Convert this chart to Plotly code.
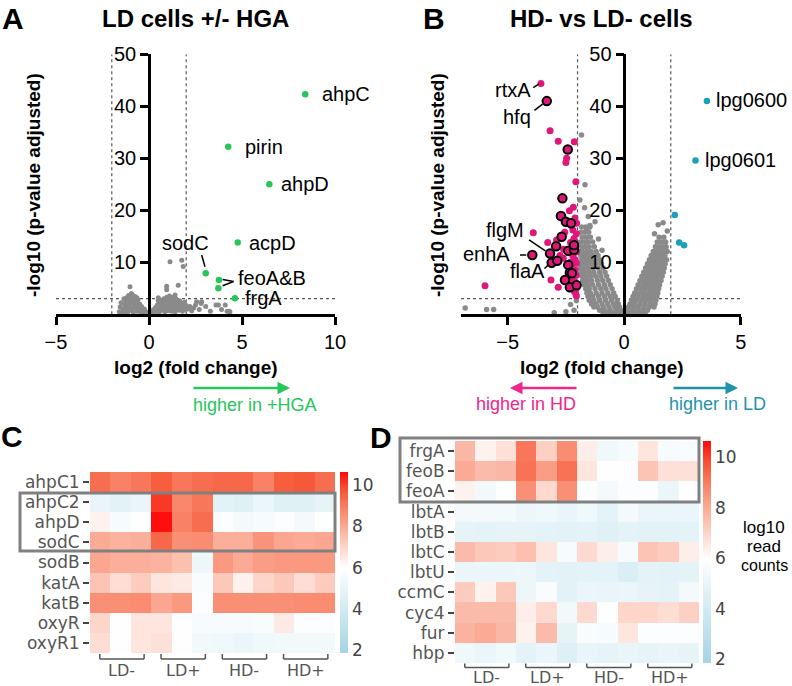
import plotly.graph_objects as go

W, H = 792, 686
def px(v): return v / W
def py(v): return 1 - v / H

FONT = "Liberation Sans, Arial, sans-serif"
HFONT = "DejaVu Sans, sans-serif"
GREEN = "#27c65a"
PINK = "#e0177a"
PINK_TXT = "#f0278a"
TEAL = "#1aa0bd"
TEAL_TXT = "#1f93aa"
GRAY = "#8a8a8a"

# ---------------- Panel A : LD cells +/- HGA ----------------
a_genes = ["ahpC", "pirin", "ahpD", "acpD", "sodC", "feoA", "feoB", "frgA"]
a_sig_x = [8.4, 4.26, 6.47, 4.77, 3.05, 3.76, 3.73, 4.62]
a_sig_y = [42.3, 32.2, 25.0, 13.8, 7.9, 6.6, 5.0, 3.1]
a_gray = [(-1.45,0.3),(-1.4,1.0),(-1.35,0.6),(-1.3,1.8),(-1.25,2.5),(-1.2,1.2),(-1.2,3.2),(-1.15,0.4),
          (-1.1,2.0),(-1.1,3.6),(-1.05,1.5),(-1.0,2.8),(-1.0,0.8),(-0.95,4.0),(-0.95,3.3),(-0.9,2.2),
          (-0.9,1.0),(-0.85,3.0),(-0.85,0.3),(-0.8,1.8),(-0.8,2.6),(-0.75,3.4),(-0.7,1.2),(-0.7,2.1),
          (-0.65,0.6),(-0.6,2.8),(-0.6,1.6),(-0.55,0.9),(-0.5,2.0),(-0.5,1.2),(-0.45,0.4),(-0.4,1.5),
          (-0.35,0.8),(-0.3,0.3),(-0.25,1.0),(-0.2,0.5),(-0.15,0.2),(-0.1,0.4),(-0.05,0.1),(-1.3,0.2),
          (-1.02,5.3),(-1.6,0.5),(-1.55,1.4),(-1.5,2.2),(-0.65,3.2),(-1.1,2.9),(-0.9,3.8),(-1.35,3.0),
          (0.05,0.1),(0.1,0.3),(0.15,0.6),(0.2,0.2),(0.25,0.9),(0.3,0.4),(0.35,1.3),(0.4,0.7),
          (0.45,1.8),(0.5,1.1),(0.55,0.4),(0.6,2.2),(0.6,1.4),(0.65,0.8),(0.7,2.7),(0.7,1.7),
          (0.75,1.0),(0.8,3.0),(0.8,2.0),(0.85,0.5),(0.9,2.5),(0.9,1.3),(0.95,3.3),(1.0,1.8),
          (1.0,0.7),(1.05,2.8),(1.1,1.2),(1.1,3.5),(1.15,2.2),(1.2,0.6),(1.2,1.6),(1.25,2.9),
          (1.3,1.0),(1.35,2.4),(1.4,1.8),(1.4,0.5),(1.45,3.0),(1.5,1.2),(1.55,2.2),(1.6,0.8),
          (1.6,1.6),(1.65,2.6),(1.7,1.1),(1.75,1.9),(1.8,0.6),(1.85,1.4),(1.9,2.3),(1.95,0.9),
          (2.0,1.7),(2.1,1.0),(2.2,1.5),(2.3,0.7),(2.4,1.2),(1.3,3.3),(0.5,2.6),
          (1.13,10.1),(1.76,10.4),(1.84,9.2),(0.95,5.4),(1.57,5.6),(0.95,4.7),(1.4,3.7),(0.5,3.2),
          (2.56,2.4),(2.8,2.1),(3.05,1.5),(3.6,1.8),(3.3,0.6),(3.9,0.9),(4.1,1.8),(4.3,0.6),
          (2.5,1.8),(2.83,2.4),(3.73,1.8),(4.35,0.5),(4.2,0.6),(2.7,0.9)]

# ---------------- Panel B : HD- vs LD- cells ----------------
b_hd_plain = [(-3.57,44.4),(-3.18,35.3),(-2.83,33.3),(-2.14,33.2),(-2.47,30.0),(-2.50,29.2),(-2.07,25.5),
              (-2.18,20.6),(-2.35,19.9),(-2.11,18.5),(-2.04,17.5),(-3.90,15.7),(-3.28,13.8),(-2.90,14.3),
              (-2.61,10.8),(-3.14,6.6),(-2.83,5.2),(-5.97,5.5),(-2.08,4.0),(-2.15,14.6),(-2.05,15.5),
              (-2.2,16.2),(-2.1,13.0),(-2.05,12.0),(-2.2,11.2),(-2.1,10.5),(-2.05,9.8),(-2.25,9.0),
              (-2.1,8.5),(-2.05,7.5),(-2.2,7.0),(-2.1,6.2),(-2.25,6.0),(-2.05,5.0),(-2.15,4.5),
              (-2.3,10.0),(-2.3,13.8),(-2.35,7.2),(-2.6,12.5),(-2.75,11.3),(-2.55,15.8),(-2.2,14.0),
              (-2.05,3.5),(-2.78,18.9)]
b_hd_outlined = [(-3.32,41.0),(-2.42,31.7),(-2.65,22.3),(-2.71,18.9),(-2.50,17.8),(-2.28,17.5),
                 (-2.68,14.9),(-2.92,13.1),(-3.18,11.7),(-3.94,11.4),(-2.40,12.2),(-2.15,12.4),
                 (-2.15,13.3),(-3.11,9.9),(-2.87,10.3),(-2.40,9.5),(-2.33,8.0),(-2.24,7.9),
                 (-2.54,6.6),(-2.33,5.2),(-2.04,5.6)]
b_ld_x = [3.55, 3.06, 2.17, 2.36, 2.57]
b_ld_y = [41.0, 29.6, 19.1, 13.8, 13.3]
b_gray_rows = {
    0.3: [-0.1,-0.3,-0.5,-0.7,-0.9, 0.1,0.3,0.5,0.7,0.9],
    0.8: [-0.15,-0.35,-0.6,-0.85,-1.05, 0.12,0.35,0.58,0.8,1.0],
    1.4: [-0.2,-0.4,-0.65,-0.9,-1.15,-1.3, 0.18,0.4,0.62,0.85,1.08,1.28],
    2.0: [-0.25,-0.45,-0.7,-0.95,-1.2,-1.4, 0.25,0.45,0.68,0.9,1.12,1.32],
    2.7: [-0.3,-0.55,-0.8,-1.05,-1.3,-1.5, 0.32,0.52,0.74,0.95,1.16,1.36],
    3.4: [-0.38,-0.6,-0.85,-1.1,-1.35,-1.55, 0.38,0.58,0.8,1.0,1.2,1.4],
    4.1: [-0.45,-0.7,-0.95,-1.2,-1.45,-1.6, 0.45,0.65,0.86,1.06,1.25,1.44],
    4.9: [-0.52,-0.78,-1.0,-1.25,-1.5,-1.65, 0.53,0.72,0.92,1.12,1.3,1.48],
    5.7: [-0.6,-0.85,-1.1,-1.35,-1.55,-1.72, 0.6,0.8,0.98,1.17,1.35,1.52],
    6.5: [-0.68,-0.92,-1.15,-1.4,-1.6,-1.78, 0.68,0.86,1.04,1.22,1.4,1.58],
    7.3: [-0.75,-1.0,-1.22,-1.45,-1.65,-1.8, 0.76,0.93,1.1,1.28,1.45,1.63],
    8.1: [-0.82,-1.05,-1.3,-1.5,-1.7,-1.85, 0.84,1.0,1.16,1.33,1.5,1.68],
    8.9: [-0.9,-1.12,-1.35,-1.55,-1.75,-1.88, 0.92,1.08,1.24,1.4,1.56,1.72],
    9.7: [-0.98,-1.2,-1.4,-1.6,-1.78,-1.9, 1.0,1.15,1.3,1.46,1.62,1.76],
    10.5: [-1.05,-1.28,-1.48,-1.66,-1.82, 1.08,1.23,1.38,1.53,1.68,1.82],
    11.3: [-1.12,-1.35,-1.55,-1.72,-1.86, 1.16,1.3,1.45,1.6,1.75],
    12.1: [-1.2,-1.42,-1.6,-1.78,-1.9, 1.25,1.4,1.55,1.7,1.85],
    13.0: [-1.28,-1.5,-1.66,-1.82, 1.34,1.5,1.65,1.8],
    13.9: [-1.35,-1.56,-1.72,-1.88, 1.42,1.6,1.78],
    14.8: [-1.45,-1.62,-1.8, 1.5,1.7],
    15.8: [-1.52,-1.7,-1.86],
    16.8: [-1.47,-1.65,-1.82],
}
b_gray_extra = [(-1.61,16.2),(-1.47,17.1),(-1.83,34.5),(-1.68,24.9),(-1.54,18.8),(-1.7,20.5),(-1.9,22.0),
                (-1.25,17.8),(-1.1,14.5),(-0.95,12.3),(-6.82,1.2),(-5.9,0.9),(-5.6,0.9),(-2.3,1.9),
                (-2.15,0.8),(-2.5,0.5),(-3.0,0.3),(-2.05,2.6),(1.46,17.2),(1.67,17.6),(1.85,16.0),(1.3,15.5)]

# ---------------- Panel C / D heatmaps ----------------
groups = ["LD-", "LD+", "HD-", "HD+"]
samples = ["LD-1","LD-2","LD-3","LD+1","LD+2","LD+3","HD-1","HD-2","HD-3","HD+1","HD+2","HD+3"]
c_genes = ["ahpC1", "ahpC2", "ahpD", "sodC", "sodB", "katA", "katB", "oxyR", "oxyR1"]
c_values = [
    [9.3, 8.9, 9.1, 9.6, 9.1, 9.3, 9.4, 9.4, 8.9, 9.6, 9.7, 9.3],
    [5.0, 4.7, 5.0, 10.1, 8.8, 9.1, 4.7, 4.6, 5.1, 4.6, 4.6, 4.9],
    [6.3, 5.6, 6.0, 10.6, 8.9, 9.3, 5.8, 5.5, 5.6, 5.8, 5.5, 5.9],
    [8.0, 7.8, 7.9, 9.4, 8.6, 8.7, 7.9, 7.9, 8.5, 8.1, 8.0, 8.1],
    [8.1, 7.9, 7.9, 7.8, 7.5, 5.2, 8.4, 8.0, 8.3, 8.4, 8.4, 8.4],
    [7.4, 6.8, 7.2, 6.6, 6.5, 5.7, 7.3, 6.3, 7.0, 7.3, 6.8, 7.2],
    [8.6, 8.6, 8.7, 8.1, 8.4, 5.8, 8.6, 8.6, 8.6, 8.6, 8.7, 8.7],
    [7.0, 6.0, 6.6, 6.6, 6.0, 5.6, 5.6, 5.6, 5.7, 6.5, 5.8, 5.8],
    [6.8, 6.0, 6.6, 6.7, 6.0, 5.4, 5.3, 5.1, 5.3, 5.4, 5.4, 5.4],
]
d_genes = ["frgA", "feoB", "feoA", "lbtA", "lbtB", "lbtC", "lbtU", "ccmC", "cyc4", "fur", "hbp"]
d_values = [
    [7.7, 6.3, 6.7, 9.1, 7.1, 8.7, 6.4, 5.3, 5.6, 6.6, 5.6, 5.7],
    [8.0, 7.6, 7.7, 9.2, 8.3, 9.2, 6.6, 6.0, 6.0, 7.4, 6.7, 6.7],
    [6.3, 5.4, 5.9, 8.6, 6.9, 8.6, 5.8, 5.5, 5.8, 5.8, 5.1, 6.0],
    [5.5, 5.5, 5.5, 5.2, 5.3, 5.0, 5.3, 4.8, 5.5, 5.1, 5.1, 5.1],
    [4.9, 4.8, 4.9, 4.9, 4.8, 4.7, 4.8, 4.6, 4.8, 4.7, 4.7, 4.8],
    [7.6, 7.3, 7.2, 7.5, 6.6, 5.6, 6.9, 6.4, 5.6, 7.4, 7.2, 6.4],
    [5.1, 5.1, 5.1, 5.2, 4.8, 4.7, 4.8, 4.8, 4.3, 4.8, 4.7, 4.8],
    [7.2, 6.3, 7.3, 5.2, 5.7, 4.7, 5.1, 5.0, 5.1, 4.9, 4.8, 5.5],
    [7.6, 7.6, 7.6, 6.4, 6.9, 5.4, 6.9, 6.0, 7.0, 7.0, 6.8, 7.1],
    [7.8, 8.0, 7.7, 6.3, 7.6, 4.9, 5.7, 5.6, 6.6, 5.8, 5.8, 5.8],
    [5.3, 5.1, 5.4, 4.8, 5.1, 4.5, 5.0, 4.9, 5.0, 4.9, 5.0, 4.9],
]
cb_ticks = [2, 4, 6, 8, 10]
ZMIN, ZMAX = 1.85, 10.65
cscale = [[0.0, "#a5d4e4"], [0.25, "#d3ebf3"], [0.47, "#ffffff"], [0.62, "#fcc8b9"],
          [0.78, "#f98b70"], [0.9, "#f65535"], [1.0, "#ff0a0a"]]

fig = go.Figure()

# Panel A traces
fig.add_trace(go.Scatter(x=[p[0] for p in a_gray], y=[p[1] for p in a_gray], mode="markers",
                         marker=dict(color=GRAY, size=5), xaxis="x", yaxis="y", cliponaxis=False))
fig.add_trace(go.Scatter(x=a_sig_x, y=a_sig_y, mode="markers", marker=dict(color=GREEN, size=6.5),
                         xaxis="x", yaxis="y", cliponaxis=False))

# Panel B traces
bgx, bgy = [], []
for yv, xs in b_gray_rows.items():
    for xv in xs:
        bgx.append(xv); bgy.append(yv)
bgx += [p[0] for p in b_gray_extra]
bgy += [p[1] for p in b_gray_extra]
fig.add_trace(go.Scatter(x=bgx, y=bgy, mode="markers", marker=dict(color=GRAY, size=5.5),
                         xaxis="x2", yaxis="y2", cliponaxis=False))
fig.add_trace(go.Scatter(x=[p[0] for p in b_hd_plain], y=[p[1] for p in b_hd_plain], mode="markers",
                         marker=dict(color=PINK, size=7), xaxis="x2", yaxis="y2", cliponaxis=False))
fig.add_trace(go.Scatter(x=[p[0] for p in b_hd_outlined], y=[p[1] for p in b_hd_outlined], mode="markers",
                         marker=dict(color=PINK, size=8.5, line=dict(color="black", width=2)),
                         xaxis="x2", yaxis="y2", cliponaxis=False))
fig.add_trace(go.Scatter(x=b_ld_x, y=b_ld_y, mode="markers", marker=dict(color=TEAL, size=6.5),
                         xaxis="x2", yaxis="y2", cliponaxis=False))

# Heatmaps
def cbar(top, bottom, left):
    return dict(x=px(left), xanchor="left", y=py((top + bottom) / 2), yanchor="middle",
                len=bottom - top, lenmode="pixels", thickness=8, thicknessmode="pixels",
                outlinewidth=0, xpad=0, ypad=0, tickvals=cb_ticks, ticks="",
                tickfont=dict(family=HFONT, size=17, color="#444"))

fig.add_trace(go.Heatmap(z=c_values, x=samples, y=c_genes, colorscale=cscale, zmin=ZMIN, zmax=ZMAX,
                         xaxis="x3", yaxis="y3", colorbar=cbar(472, 653, 340), hoverinfo="skip"))
fig.add_trace(go.Heatmap(z=d_values, x=samples, y=d_genes, colorscale=cscale, zmin=ZMIN, zmax=ZMAX,
                         xaxis="x4", yaxis="y4", colorbar=cbar(441, 663, 703), hoverinfo="skip"))

axis_common = dict(showgrid=False, zeroline=False, showline=True, linecolor="black", linewidth=2.5,
                   ticks="outside", ticklen=8, tickwidth=2.5, tickcolor="black", automargin=False,
                   tickfont=dict(family=FONT, size=20, color="black"))
hm_x = dict(showgrid=False, zeroline=False, showline=False, showticklabels=False, ticks="",
            type="category", automargin=False)
hm_y = dict(showgrid=False, zeroline=False, showline=False, autorange="reversed", type="category",
            ticks="outside", ticklen=6, tickwidth=1.5, tickcolor="#444", automargin=False,
            tickfont=dict(family=HFONT, size=17, color="#555"))

fig.update_layout(
    width=W, height=H, margin=dict(l=0, r=0, t=0, b=0, pad=0, autoexpand=False),
    paper_bgcolor="white", plot_bgcolor="rgba(0,0,0,0)", showlegend=False,
    xaxis=dict(domain=[px(56), px(335)], range=[-5, 10], anchor="y", tickvals=[-5, 0, 5, 10], **axis_common),
    yaxis=dict(domain=[py(314.3), py(54.3)], range=[0, 50], anchor="free", position=px(149),
               tickvals=[10, 20, 30, 40, 50], **axis_common),
    xaxis2=dict(domain=[px(461), px(740.7)], range=[-7, 5], anchor="y2", tickvals=[-5, 0, 5], **axis_common),
    yaxis2=dict(domain=[py(314.3), py(54.3)], range=[0, 50], anchor="free", position=px(624.3),
                tickvals=[10, 20, 30, 40, 50], **axis_common),
    xaxis3=dict(domain=[px(90), px(335)], anchor="y3", **hm_x),
    yaxis3=dict(domain=[py(653), py(472)], anchor="x3", **hm_y),
    xaxis4=dict(domain=[px(455), px(699)], anchor="y4", **hm_x),
    yaxis4=dict(domain=[py(663), py(441)], anchor="x4", **hm_y),
)

shapes = []
dot = dict(color="#555", width=1.2, dash="dot")
for xr, yr, x0, x1 in [("x", "y", -5, 10), ("x2", "y2", -7, 5)]:
    shapes.append(dict(type="line", xref=xr, yref=yr, x0=x0, x1=x1, y0=3, y1=3, line=dot, layer="below"))
    for xv in (-2, 2):
        shapes.append(dict(type="line", xref=xr, yref=yr, x0=xv, x1=xv, y0=0, y1=50, line=dot, layer="below"))

lead = dict(color="black", width=1.5)
# Panel A leader lines
shapes.append(dict(type="line", xref="x", yref="y", x0=2.83, y0=11.4, x1=3.01, y1=9.15, line=lead))
shapes.append(dict(type="line", xref="x", yref="y", x0=3.96, y0=6.7, x1=4.55, y1=6.3, line=lead))
shapes.append(dict(type="line", xref="x", yref="y", x0=3.96, y0=5.5, x1=4.55, y1=6.3, line=lead))
# Panel B leader lines
shapes.append(dict(type="line", xref="x2", yref="y2", x0=-3.9, y0=43.6, x1=-3.65, y1=44.3, line=lead))
shapes.append(dict(type="line", xref="x2", yref="y2", x0=-3.85, y0=39.2, x1=-3.5, y1=40.4, line=lead))
shapes.append(dict(type="line", xref="x2", yref="y2", x0=-4.08, y0=14.3, x1=-3.38, y1=12.2, line=lead))
shapes.append(dict(type="line", xref="x2", yref="y2", x0=-4.47, y0=11.4, x1=-4.2, y1=11.4, line=lead))
shapes.append(dict(type="line", xref="x2", yref="y2", x0=-3.42, y0=8.8, x1=-3.22, y1=9.6, line=lead))

# boxes around heatmap rows
box = dict(color="#808080", width=3)
shapes.append(dict(type="rect", xref="paper", yref="paper", x0=px(20), x1=px(335), y0=py(551), y1=py(493), line=box))
shapes.append(dict(type="rect", xref="paper", yref="paper", x0=px(400), x1=px(699), y0=py(502), y1=py(438), line=box))

# group brackets
annotations = []
brk = dict(color="#555", width=1.5)
for xr, ytop, ybot, ylab in [("x3", 654, 659, 670), ("x4", 663.5, 667.5, 677)]:
    for g, name in enumerate(groups):
        x0, x1 = 3 * g - 0.02, 3 * g + 2.15
        shapes.append(dict(type="line", xref=xr, yref="paper", x0=x0, x1=x1, y0=py(ybot), y1=py(ybot), line=brk))
        shapes.append(dict(type="line", xref=xr, yref="paper", x0=x0, x1=x0, y0=py(ybot), y1=py(ytop), line=brk))
        shapes.append(dict(type="line", xref=xr, yref="paper", x0=x1, x1=x1, y0=py(ybot), y1=py(ytop), line=brk))
        annotations.append(dict(xref=xr, yref="paper", x=(x0 + x1) / 2, y=py(ylab), text=name, showarrow=False,
                                xanchor="center", yanchor="middle",
                                font=dict(family=HFONT, size=16, color="#555")))

def ptxt(x, y, t, size, bold=False, color="black", angle=0, anchor="center"):
    return dict(xref="paper", yref="paper", x=px(x), y=py(y), text=f"<b>{t}</b>" if bold else t,
                showarrow=False, xanchor=anchor, yanchor="middle", textangle=angle,
                font=dict(family=FONT, size=size, color=color))

annotations += [
    ptxt(13, 18, "A", 30, True), ptxt(434, 18, "B", 30, True),
    ptxt(12, 436, "C", 30, True), ptxt(381, 437, "D", 30, True),
    ptxt(195, 18, "LD cells +/- HGA", 24, True), ptxt(601, 18, "HD- vs LD- cells", 24, True),
    ptxt(196, 367, "log2 (fold change)", 19, True), ptxt(602, 367, "log2 (fold change)", 19, True),
    ptxt(33, 185, "-log10 (p-value adjusted)", 19, True, angle=-90),
    ptxt(437, 185, "-log10 (p-value adjusted)", 19, True, angle=-90),
    ptxt(255, 405, "higher in +HGA", 18, color=GREEN),
    ptxt(526, 404, "higher in HD", 18, color=PINK_TXT),
    ptxt(717, 404, "higher in LD", 18, color=TEAL_TXT),
    ptxt(764, 527, "log10", 17), ptxt(764, 546, "read", 17), ptxt(764, 565, "counts", 16),
]
# arrows
for hx, tx, col in [(290, 192, GREEN), (510, 578, PINK_TXT), (738, 672, TEAL_TXT)]:
    annotations.append(dict(xref="paper", yref="paper", x=px(hx), y=py(388), ax=tx - hx, ay=0, text="",
                            showarrow=True, arrowhead=2, arrowsize=1, arrowwidth=2.5, arrowcolor=col, standoff=0))

def dtxt(xr, yr, x, y, t, anchor):
    return dict(xref=xr, yref=yr, x=x, y=y, text=t, showarrow=False, xanchor=anchor, yanchor="middle",
                font=dict(family=FONT, size=20, color="black"))

annotations += [
    dtxt("x", "y", 9.2, 42.3, "ahpC", "left"),
    dtxt("x", "y", 5.05, 32.2, "pirin", "left"),
    dtxt("x", "y", 7.0, 25.0, "ahpD", "left"),
    dtxt("x", "y", 5.25, 13.8, "acpD", "left"),
    dtxt("x", "y", 1.98, 13.8, "sodC", "center"),
    dtxt("x", "y", 4.7, 7.0, "feoA&B", "left"),
    dtxt("x", "y", 5.05, 3.1, "frgA", "left"),
    dtxt("x2", "y2", 3.85, 41.2, "lpg0600", "left"),
    dtxt("x2", "y2", 3.38, 29.6, "lpg0601", "left"),
    dtxt("x2", "y2", -3.92, 43.2, "rtxA", "right"),
    dtxt("x2", "y2", -3.9, 38.0, "hfq", "right"),
    dtxt("x2", "y2", -4.22, 16.2, "flgM", "right"),
    dtxt("x2", "y2", -4.8, 11.6, "enhA", "right"),
    dtxt("x2", "y2", -3.3, 8.3, "flaA", "right"),
]

fig.update_layout(shapes=shapes, annotations=annotations)
fig.write_html("out.html", config={"displayModeBar": False},
               post_script="document.body.style.margin='0';document.body.style.overflow='hidden';")
